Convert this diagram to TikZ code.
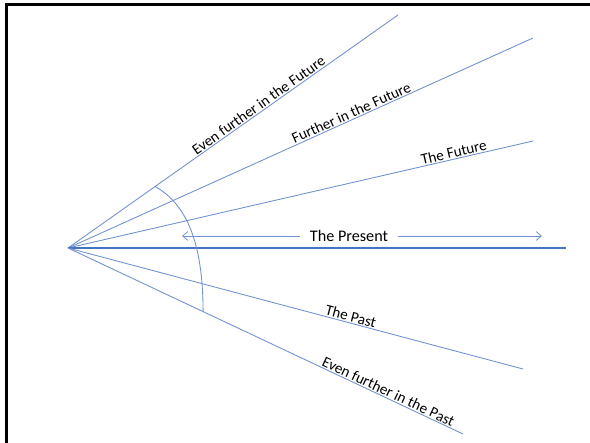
\documentclass[tikz,border=0pt]{standalone}
\usepackage{fontspec}
\setmainfont{Carlito}
\usetikzlibrary{arrows.meta,calc}

\definecolor{rayblue}{RGB}{68,114,196}
\definecolor{raylight}{RGB}{112,146,208}

\begin{document}
\begin{tikzpicture}[
    ray/.style={draw=raylight, line width=0.5pt},
    lbl/.style={font=\fontsize{8.6}{10}\selectfont, sloped, above, inner sep=0.6pt},
    arr/.style={draw=raylight, line width=0.45pt, -{Straight Barb[length=3pt,width=5pt]}}
]
\useasboundingbox (-1.36,-3.90) rectangle (10.44,4.96);
% frame, only top and left edge show
\draw[line width=1.6pt] (-1.234,-3.95) -- (-1.234,4.874) -- (10.5,4.874);

\coordinate (o) at (0,0);
\coordinate (eff) at (6.60,4.66);
\coordinate (ff) at (9.30,4.20);
\coordinate (f) at (9.30,2.14);
\coordinate (now) at (9.96,0);
\coordinate (p) at (9.10,-2.42);
\coordinate (efp) at (7.90,-3.72);

\draw[ray] (o) -- node[lbl, pos=0.589] {Even further in the Future} (eff);
\draw[ray] (o) -- node[lbl, pos=0.615] {Further in the Future} (ff);
\draw[ray] (o) -- node[lbl, pos=0.833] {The Future} (f);
\draw[ray, draw=rayblue, line width=1pt] (o) -- (now);
\draw[ray] (o) -- node[lbl, pos=0.618] {The Past} (p);
\draw[ray] (o) -- node[lbl, pos=0.804] {Even further in the Past} (efp);

% the arc across the rays
\coordinate (a1) at ($(o)!0.264!(eff)$);
\coordinate (a2) at ($(o)!0.342!(efp)$);
\draw[ray] (a1) .. controls (2.44,0.84) and (2.70,-0.04) .. (a2);

% the present
\node[font=\fontsize{9.2}{11}\selectfont, inner xsep=0.2cm, inner ysep=1pt] (present) at (5.62,0.24) {The Present};
\coordinate (pl) at (2.28,0.24);
\coordinate (pr) at (9.48,0.24);
\draw[arr] (present.west) -- (pl);
\draw[arr] (present.east) -- (pr);
\end{tikzpicture}
\end{document}
